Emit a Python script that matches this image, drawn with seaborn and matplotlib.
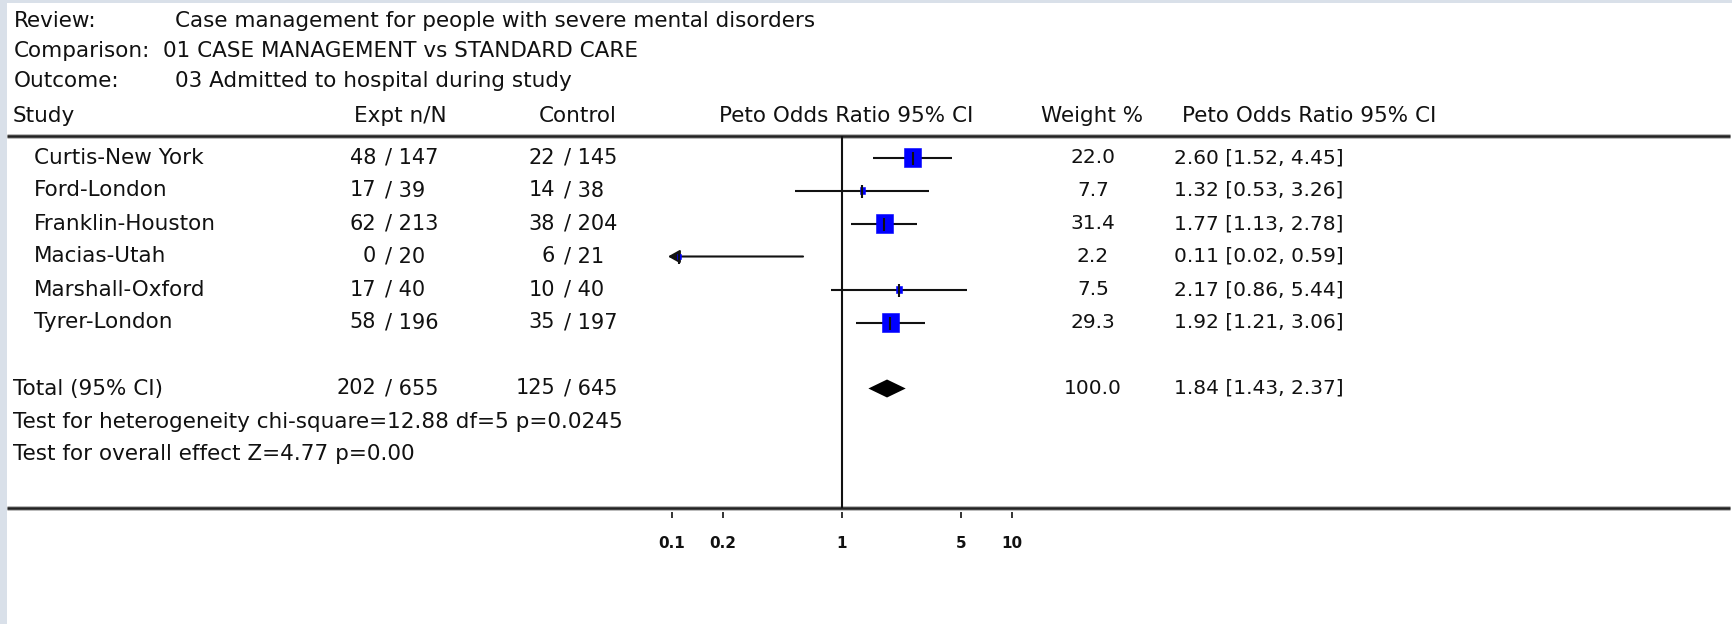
import numpy as np
import matplotlib
matplotlib.use("Agg")
import matplotlib.pyplot as plt
import matplotlib.transforms as mtransforms
from matplotlib.ticker import NullLocator
import seaborn as sns

# ---- data -------------------------------------------------------------
studies = ["Curtis-New York", "Ford-London", "Franklin-Houston",
           "Macias-Utah", "Marshall-Oxford", "Tyrer-London"]
expt_n = [48, 17, 62, 0, 17, 58]
expt_N = [147, 39, 213, 20, 40, 196]
ctrl_n = [22, 14, 38, 6, 10, 35]
ctrl_N = [145, 38, 204, 21, 40, 197]
weight = [22.0, 7.7, 31.4, 2.2, 7.5, 29.3]
peto_or = [2.60, 1.32, 1.77, 0.11, 2.17, 1.92]
ci_low = [1.52, 0.53, 1.13, 0.02, 0.86, 1.21]
ci_high = [4.45, 3.26, 2.78, 0.59, 5.44, 3.06]

total_expt = (202, 655)
total_ctrl = (125, 645)
total_weight = 100.0
total_or = 1.84
total_low = 1.43
total_high = 2.37

tick_values = [0.1, 0.2, 1, 5, 10]
tick_labels = ["0.1", "0.2", "1", "5", "10"]

review = "Case management for people with severe mental disorders"
comparison = "01 CASE MANAGEMENT vs STANDARD CARE"
outcome = "03 Admitted to hospital during study"
heterogeneity = "Test for heterogeneity chi-square=12.88 df=5 p=0.0245"
overall = "Test for overall effect Z=4.77 p=0.00"

# ---- style ------------------------------------------------------------
sns.set_theme(style="white")
plt.rcParams["font.family"] = ["DejaVu Sans"]
INK = "#111111"
FS = 15.5      # words
FN = 14.5      # numeric columns

W, H = 1733, 624
fig = plt.figure(figsize=(W / 100, H / 100), dpi=100, facecolor="#d9e0e9")

# page canvas in pixel coordinates
bg = fig.add_axes([7 / W, 0, 1 - 7 / W, 1 - 3 / H])
bg.set_xlim(7, W)
bg.set_ylim(H, 3)
bg.set_facecolor("white")
bg.set_xticks([])
bg.set_yticks([])
for s in bg.spines.values():
    s.set_visible(False)
bg.grid(False)

# forest panel: log scale, one row per study
fx0, fx1, fy0, fy1 = 668, 1016, 136, 508
ax = fig.add_axes([fx0 / W, 1 - fy1 / H, (fx1 - fx0) / W, (fy1 - fy0) / H])
ax.set_facecolor("none")
ax.set_xscale("log")
xmin, xmax = 10 ** (-174 / 170), 10 ** (174 / 170)
ax.set_xlim(xmin, xmax)
row0, pitch = 157.5, 33.0
total_row = 7
ax.set_ylim(total_row + (fy1 - (row0 + total_row * pitch)) / pitch,
            -(row0 - fy0) / pitch)
ax.grid(False)

rows = np.arange(len(studies))

# reference line at OR = 1
ax.axvline(1, color=INK, lw=1.5, zorder=1)

# confidence intervals (arrow where the interval leaves the panel)
for r, lo, hi in zip(rows, ci_low, ci_high):
    if lo < xmin:
        ax.annotate("", xy=(xmin, r), xytext=(hi, r),
                    arrowprops=dict(arrowstyle="-|>,head_length=0.5,head_width=0.28",
                                    color=INK, lw=1.5, shrinkA=0, shrinkB=0,
                                    mutation_scale=14),
                    zorder=2, annotation_clip=False)
    else:
        ax.hlines(r, lo, hi, color=INK, lw=1.5, zorder=2)

# study boxes sized by weight (slightly taller than wide)
box = [(-0.45, -0.5), (0.45, -0.5), (0.45, 0.5), (-0.45, 0.5), (-0.45, -0.5)]
box_px = np.clip(np.array(weight) * 0.86, 5, 19)
sns.scatterplot(x=peto_or, y=rows, marker=box, s=(box_px * 0.72) ** 2,
                color="#0000ff", edgecolor="#0000ff", linewidth=0.4,
                ax=ax, legend=False, zorder=3)
ax.scatter(peto_or, rows, marker="|", s=(13 * 0.72) ** 2, color=INK,
           linewidths=1.5, zorder=4)

# pooled estimate diamond
h = 9 / pitch
ax.fill([total_low, total_or, total_high, total_or],
        [total_row, total_row - h, total_row, total_row + h],
        color="black", lw=0, zorder=3)

# axis ticks below the bottom rule
ax.set_xticks(tick_values)
ax.set_xticklabels(tick_labels)
ax.xaxis.set_minor_locator(NullLocator())
ax.set_yticks([])
for name, s in ax.spines.items():
    s.set_visible(False)
ax.spines["bottom"].set_position(("outward", 3.2))
ax.tick_params(axis="x", which="major", direction="out", length=4.5,
               width=1.2, color=INK, pad=12.5, labelsize=11, labelcolor=INK,
               bottom=True)
for lab in ax.get_xticklabels():
    lab.set_fontweight("bold")

# horizontal rules across the page
for y in (136, 508):
    bg.plot([7, 1730], [y, y], color="#b0b0b0", lw=3.4, solid_capstyle="butt")
    bg.plot([7, 1730], [y, y], color="#222222", lw=1.8, solid_capstyle="butt")

# header block
txt = dict(color=INK, va="center")
bg.text(14, 21, "Review:", fontsize=FS, **txt)
bg.text(175, 21, review, fontsize=FS, **txt)
bg.text(14, 51, "Comparison:", fontsize=FS, **txt)
bg.text(163, 51, comparison, fontsize=FS, **txt)
bg.text(14, 81, "Outcome:", fontsize=FS, **txt)
bg.text(175, 81, outcome, fontsize=FS, **txt)

hy = 115.5
bg.text(13, hy, "Study", fontsize=FS, **txt)
bg.text(400, hy, "Expt n/N", ha="center", fontsize=FS, **txt)
bg.text(578, hy, "Control", ha="center", fontsize=FS, **txt)
bg.text(846, hy, "Peto Odds Ratio 95% CI", ha="center", fontsize=FS, **txt)
bg.text(1092, hy, "Weight %", ha="center", fontsize=FS, **txt)
bg.text(1182, hy, "Peto Odds Ratio 95% CI", ha="left", fontsize=FS, **txt)

# table rows share the forest panel's row positions
tr = mtransforms.blended_transform_factory(bg.transData, ax.transData)
rtxt = dict(txt, transform=tr)


def counts(x_num, r, n, N):
    bg.text(x_num, r, f"{n}", ha="right", fontsize=15, **rtxt)
    bg.text(x_num + 9, r, f"/ {N}", ha="left", fontsize=15, **rtxt)


for r, name, en, eN, cn, cN, w, o, lo, hi in zip(
        rows, studies, expt_n, expt_N, ctrl_n, ctrl_N,
        weight, peto_or, ci_low, ci_high):
    bg.text(34, r, name, ha="left", fontsize=FS, **rtxt)
    counts(376, r, en, eN)
    counts(555, r, cn, cN)
    bg.text(1093, r, f"{w:.1f}", ha="center", fontsize=FN, **rtxt)
    bg.text(1174, r, f"{o:.2f} [{lo:.2f}, {hi:.2f}]", ha="left",
            fontsize=FN, **rtxt)

bg.text(13, total_row, "Total (95% CI)", ha="left", fontsize=FS, **rtxt)
counts(376, total_row, *total_expt)
counts(555, total_row, *total_ctrl)
bg.text(1093, total_row, f"{total_weight:.1f}", ha="center", fontsize=FN, **rtxt)
bg.text(1174, total_row, f"{total_or:.2f} [{total_low:.2f}, {total_high:.2f}]",
        ha="left", fontsize=FN, **rtxt)
bg.text(13, total_row + 1, heterogeneity, ha="left", fontsize=FS, **rtxt)
bg.text(13, total_row + 2, overall, ha="left", fontsize=FS, **rtxt)

fig.savefig("out.png", dpi=100, facecolor=fig.get_facecolor())
